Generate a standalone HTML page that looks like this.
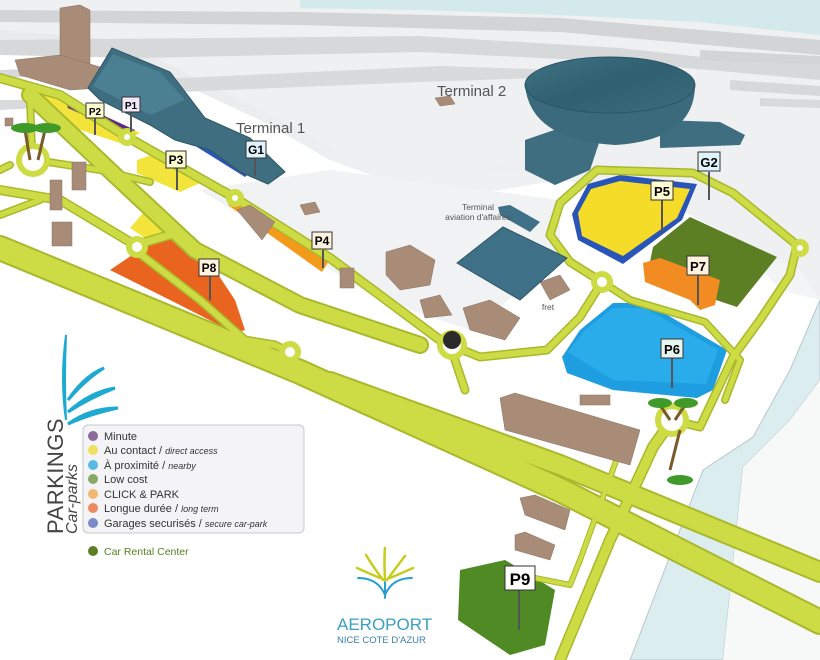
<!DOCTYPE html>
<html><head><meta charset="utf-8"><style>
html,body{margin:0;padding:0;background:#fff;}
svg{display:block}
text{font-family:"Liberation Sans",sans-serif}
</style></head><body>
<svg width="820" height="660" viewBox="0 0 820 660" xmlns="http://www.w3.org/2000/svg">
<defs>
<linearGradient id="apr" x1="0" y1="0" x2="0" y2="1"><stop offset="0" stop-color="#e6e8ea"/><stop offset="1" stop-color="#f4f5f6"/></linearGradient>
<linearGradient id="dome" x1="0" y1="0" x2="1" y2="1"><stop offset="0" stop-color="#3f7385"/><stop offset="0.5" stop-color="#2f5f70"/><stop offset="1" stop-color="#3c6e80"/></linearGradient>
</defs>
<rect width="820" height="660" fill="#fff"/>
<!-- apron -->
<path d="M0 0 H820 V300 L780 290 L700 200 L560 180 L440 200 L330 160 L260 120 L130 60 L0 40 Z" fill="url(#apr)"/>
<path d="M0 0 H820 V300 L800 270 L560 150 L400 190 L300 130 L200 80 L120 40 L0 30Z" fill="#eef0f1"/>
<path d="M200 190 L330 170 L560 200 L560 260 L470 330 L380 300 Z" fill="#f1f2f3"/>
<!-- sea top -->
<path d="M300 0 H820 V35 L700 22 L560 15 L420 10 L300 8Z" fill="#d3e9ec"/>
<!-- runways -->
<path d="M0 10 L300 12 L560 18 L820 40 V55 L560 32 L300 25 L0 22Z" fill="#d2d4d6"/>
<path d="M0 40 L420 36 L620 48 L820 70 V80 L620 62 L420 52 L140 58 L0 55Z" fill="#d6d8da"/>
<path d="M140 80 L440 66 L560 70 L540 78 L420 82 L180 92Z" fill="#d8dadc"/>
<path d="M700 50 L820 56 V66 L700 60Z" fill="#d2d4d6"/>
<path d="M760 62 L820 64 V72 L760 70Z" fill="#d6d8da"/>
<path d="M730 80 L820 86 V96 L730 90Z" fill="#d6d8da"/>
<path d="M760 98 L820 100 V108 L760 106Z" fill="#d8dadc"/>
<path d="M0 70 L60 68 L60 76 L0 78Z" fill="#d6d8da"/>
<path d="M0 100 L40 100 L40 108 L0 110Z" fill="#d8dadc"/>
<!-- sea right -->
<path d="M820 300 L790 370 L753 437 L703 470 L630 660 L723 660 L743 467 L790 420 L820 380Z" fill="#dcedf0" stroke="#b8c8cc" stroke-width="1"/>
<path d="M820 380 L790 420 L743 467 L723 660 L820 660Z" fill="#f7f8f8"/>

<!-- parking surfaces -->
<path d="M20 88 L67 97 L140 133 L120 143 L50 120Z" fill="#f2e43a"/>
<path d="M65 98 L135 130 L130 136 L68 108Z" fill="#5a2a8a"/>
<path d="M137 160 L160 152 L200 183 L180 192 L137 173Z" fill="#f2e43a"/>
<path d="M130 228 L150 205 L170 232 L148 240Z" fill="#f2e43a"/>
<path d="M228 205 L240 200 L332 256 L322 272Z" fill="#f39a1a"/>
<path d="M110 270 L150 243 L180 235 L205 255 L235 300 L245 330 L235 333 L170 300Z" fill="#e8641f"/>
<path d="M197 147 L203 144 L250 172 L245 177Z" fill="#2a55b8"/>
<!-- P5 -->
<path d="M572 214 L588 184 L620 175 L697 184 L682 220 L623 264 L578 240Z" fill="#2a55b8"/>
<path d="M578 213 L591 189 L620 181 L690 189 L677 218 L623 256 L582 236Z" fill="#f5dc28"/>
<!-- P7 -->
<path d="M653 247 L690 217 L777 257 L737 307 L647 277Z" fill="#5b7f22"/>
<path d="M643 263 L660 258 L720 280 L715 305 L700 310 L690 300 L645 282Z" fill="#f28c22"/>
<!-- P6 -->
<path d="M562 357 L580 330 L613 303 L647 303 L727 350 L713 390 L697 398 L613 390 L567 373Z" fill="#1e9ee0"/>
<path d="M568 352 L585 330 L613 308 L645 308 L718 350 L706 384 L613 380 Z" fill="#2aacea"/>
<!-- P9 -->
<path d="M460 570 L505 560 L555 590 L545 645 L510 655 L458 620Z" fill="#4f8a24"/>

<!-- roads -->
<g fill="none" stroke="#a9b82d" stroke-linecap="round" stroke-linejoin="round">
<path d="M0 248 L300 372 L560 490 L820 622" stroke-width="26"/>
<path d="M330 382 L560 465 L820 572" stroke-width="22"/>
<path d="M30 95 L120 180 L195 250 L300 305 L420 345" stroke-width="18"/>
<path d="M0 78 L60 95 L127 137 L235 198 L330 258 L440 340" stroke-width="10"/>
<path d="M0 190 L60 200 L135 245 L180 232" stroke-width="10"/>
<path d="M135 250 L200 300 L245 340 L275 345 L295 355" stroke-width="9"/>
<path d="M30 100 L32 150 M10 165 L0 170 M48 162 L100 170 L150 182 M0 215 L40 200" stroke-width="8"/>
<path d="M450 345 L480 357 L547 350 L580 317 L602 282 L570 262 L550 235 L560 203 L597 170 L693 173 L733 193 L797 245 L790 275 L760 320 L733 357 L700 427 L672 420" stroke-width="9"/>
<path d="M602 282 L630 300 L705 322 L740 360 L725 400" stroke-width="8"/>
<path d="M450 345 L465 390" stroke-width="9"/>
<path d="M672 420 L653 447 L610 540 L560 660" stroke-width="12"/>
<path d="M620 450 L580 560 L570 585 L520 575" stroke-width="6"/>
</g>
<g fill="none" stroke="#cddc44" stroke-linecap="round" stroke-linejoin="round">
<path d="M0 248 L300 372 L560 490 L820 622" stroke-width="22"/>
<path d="M330 382 L560 465 L820 572" stroke-width="18"/>
<path d="M30 95 L120 180 L195 250 L300 305 L420 345" stroke-width="14"/>
<path d="M0 78 L60 95 L127 137 L235 198 L330 258 L440 340" stroke-width="7"/>
<path d="M0 190 L60 200 L135 245 L180 232" stroke-width="7"/>
<path d="M135 250 L200 300 L245 340 L275 345 L295 355" stroke-width="6"/>
<path d="M30 100 L32 150 M10 165 L0 170 M48 162 L100 170 L150 182 M0 215 L40 200" stroke-width="5"/>
<path d="M450 345 L480 357 L547 350 L580 317 L602 282 L570 262 L550 235 L560 203 L597 170 L693 173 L733 193 L797 245 L790 275 L760 320 L733 357 L700 427 L672 420" stroke-width="6"/>
<path d="M602 282 L630 300 L705 322 L740 360 L725 400" stroke-width="5"/>
<path d="M450 345 L465 390" stroke-width="6"/>
<path d="M672 420 L653 447 L610 540 L560 660" stroke-width="9"/>
<path d="M620 450 L580 560 L570 585 L520 575" stroke-width="4"/>
</g>
<!-- roundabouts -->
<g fill="#fff" stroke="#cddc44" stroke-width="6">
<circle cx="33" cy="160" r="14"/><circle cx="127" cy="137" r="6"/><circle cx="137" cy="247" r="8"/>
<circle cx="235" cy="198" r="6"/><circle cx="452" cy="345" r="12"/><circle cx="602" cy="282" r="8"/>
<circle cx="800" cy="248" r="6"/><circle cx="672" cy="420" r="14"/><circle cx="290" cy="352" r="8"/>
</g>

<!-- buildings brown -->
<g fill="#a88c78" stroke="#8a7060" stroke-width="0.5">
<path d="M60 8 L80 5 L90 10 L90 70 L70 80 L60 60Z"/>
<path d="M15 60 L60 55 L110 70 L100 88 L70 90 L20 75Z"/>
<rect x="72" y="162" width="14" height="28"/><rect x="50" y="180" width="12" height="30"/>
<rect x="52" y="222" width="20" height="24"/><rect x="5" y="118" width="8" height="8"/>
<path d="M237 210 L250 205 L275 222 L262 240Z"/>
<path d="M386 252 L410 245 L435 260 L430 285 L400 290 L386 275Z"/>
<path d="M420 300 L440 295 L452 315 L425 318Z"/>
<path d="M463 308 L490 300 L520 318 L505 340 L470 330Z"/>
<path d="M540 282 L560 275 L570 290 L550 300Z"/>
<path d="M300 205 L315 202 L320 212 L305 215Z"/>
<rect x="340" y="268" width="14" height="20"/>
<path d="M435 98 L450 96 L455 104 L440 106Z"/>
<path d="M500 398 L515 393 L640 430 L630 465 L505 430Z"/>
<path d="M520 498 L535 495 L570 510 L565 530 L525 515Z"/>
<path d="M515 535 L525 532 L555 545 L550 560 L515 550Z"/>
<rect x="580" y="395" width="30" height="10"/>
</g>
<!-- terminal 1 -->
<path d="M88 88 L112 48 L170 72 L205 118 L250 138 L285 172 L268 184 L240 172 L210 150 L175 140 L150 125 L100 100Z" fill="#3f6e80" stroke="#2c5565"/>
<path d="M93 86 L113 54 L160 72 L185 100 L150 115 Z" fill="#4b7f92"/>
<!-- hangar & aviation -->
<path d="M457 263 L503 227 L567 258 L520 300Z" fill="#3e7088" stroke="#2c5565"/>
<path d="M498 207 L510 205 L540 222 L530 232 L500 215Z" fill="#3e7088"/>
<!-- terminal 2 -->
<path d="M525 140 L560 128 L600 140 L590 170 L555 185 L525 170Z" fill="#3f6e80"/>
<path d="M660 120 L720 122 L745 135 L740 145 L660 148Z" fill="#3f6e80"/>
<path d="M525 85 Q530 140 615 145 Q695 140 695 85Z" fill="#3a6a7b"/>
<ellipse cx="610" cy="85" rx="85" ry="28" fill="url(#dome)" stroke="#2c5565"/>
<!-- black statue -->
<circle cx="452" cy="340" r="9" fill="#2a2a2a"/>
<!-- palms -->
<g stroke="#7a5a2a" stroke-width="3"><path d="M30 160 L25 130 M38 160 L45 130 M670 420 L660 405 M675 420 L685 405 M670 470 L680 430"/></g>
<g fill="#3f9a2a"><ellipse cx="25" cy="128" rx="14" ry="5"/><ellipse cx="47" cy="128" rx="14" ry="5"/><ellipse cx="660" cy="403" rx="12" ry="5"/><ellipse cx="686" cy="403" rx="12" ry="5"/><ellipse cx="680" cy="480" rx="13" ry="5"/></g>

<!-- signs -->
<g font-size="12" font-weight="bold" text-anchor="middle">
<g stroke="#555" stroke-width="2">
<path d="M95 118 V135 M131 112 V132 M177 168 V190 M255 158 V176 M323 250 V268 M210 275 V300 M662 200 V233 M709 172 V200 M698 275 V305 M672 358 V388 M519 590 V630"/>
</g>
<g stroke="#333" stroke-width="1" fill="#fff">
<rect x="86" y="103" width="18" height="15" fill="#fffbd0"/><rect x="122" y="97" width="18" height="15" fill="#f0e8f8"/>
<rect x="166" y="151" width="20" height="17" fill="#fffbd0"/><rect x="246" y="141" width="20" height="17" fill="#e0f2fc"/>
<rect x="312" y="232" width="20" height="17" fill="#fff3e0"/><rect x="199" y="259" width="20" height="17" fill="#fff3e0"/>
<rect x="651" y="181" width="22" height="19" fill="#fffbd0"/><rect x="698" y="152" width="22" height="19" fill="#e0f2fc"/>
<rect x="687" y="256" width="22" height="19" fill="#fff3e0"/><rect x="661" y="339" width="22" height="19" fill="#e8f4ef"/>
<rect x="505" y="566" width="30" height="24" fill="#fff"/>
</g>
<text x="95" y="115" font-size="10">P2</text><text x="131" y="109" font-size="10">P1</text>
<text x="176" y="164">P3</text><text x="256" y="154">G1</text><text x="322" y="245">P4</text><text x="209" y="272">P8</text>
<text x="662" y="196" font-size="13">P5</text><text x="709" y="167" font-size="13">G2</text><text x="698" y="271" font-size="13">P7</text><text x="672" y="354" font-size="13">P6</text>
<text x="520" y="585" font-size="17">P9</text>
</g>

<!-- labels -->
<text x="437" y="96" font-size="15" fill="#555">Terminal 2</text>
<text x="236" y="133" font-size="15" fill="#555">Terminal 1</text>
<text x="478" y="210" font-size="8.5" fill="#555" text-anchor="middle">Terminal</text>
<text x="478" y="220" font-size="8.5" fill="#555" text-anchor="middle">aviation d'affaires</text>
<text x="548" y="310" font-size="8.5" fill="#555" text-anchor="middle">fret</text>

<!-- Parkings logo leaves -->
<g fill="#1ea9d0">
<path d="M66 335 Q60 380 66 420 Q64 380 66 335Z" stroke="#1ea9d0" stroke-width="2"/>
<path d="M68 400 Q85 375 104 368 Q85 380 68 400Z" stroke="#1ea9d0" stroke-width="3"/>
<path d="M68 412 Q90 392 115 388 Q90 398 68 412Z" stroke="#1ea9d0" stroke-width="3"/>
<path d="M68 424 Q90 408 118 408 Q90 414 68 424Z" stroke="#1ea9d0" stroke-width="3"/>
</g>
<text transform="translate(63,534) rotate(-90)" font-size="22" fill="#444" letter-spacing="0.5">PARKINGS</text>
<text transform="translate(77,534) rotate(-90)" font-size="16" font-style="italic" fill="#444">Car-parks</text>

<!-- legend -->
<rect x="83" y="425" width="221" height="108" rx="5" fill="#f4f4f6" stroke="#c8c8cc"/>
<g font-size="11" fill="#333">
<circle cx="93" cy="436" r="5" fill="#8a6a98"/><text x="104" y="440">Minute</text>
<circle cx="93" cy="450" r="5" fill="#f0e060"/><text x="104" y="454">Au contact / <tspan font-style="italic" font-size="9">direct access</tspan></text>
<circle cx="93" cy="465" r="5" fill="#5ab8e6"/><text x="104" y="469">À proximité / <tspan font-style="italic" font-size="9">nearby</tspan></text>
<circle cx="93" cy="479" r="5" fill="#88a868"/><text x="104" y="483">Low cost</text>
<circle cx="93" cy="494" r="5" fill="#f0b870"/><text x="104" y="498">CLICK &amp; PARK</text>
<circle cx="93" cy="508" r="5" fill="#ec8a60"/><text x="104" y="512">Longue durée / <tspan font-style="italic" font-size="9">long term</tspan></text>
<circle cx="93" cy="523" r="5" fill="#7a8ac8"/><text x="104" y="527">Garages securisés / <tspan font-style="italic" font-size="9">secure car-park</tspan></text>
</g>
<circle cx="93" cy="551" r="5" fill="#5b7f22"/>
<text x="104" y="555" font-size="10.5" fill="#5b7f22">Car Rental Center</text>

<!-- Aeroport logo -->
<g fill="none" stroke-linecap="round">
<path d="M385 580 Q384 560 385 548 M383 580 Q372 565 366 555 M387 580 Q398 565 405 556 M380 578 Q368 573 357 568 M390 578 Q402 573 413 568" stroke="#c8cc1e" stroke-width="2.5"/>
<path d="M358 578 Q378 578 385 595 Q392 578 412 578 M385 582 V598" stroke="#2a9ed0" stroke-width="2"/>
</g>
<text x="337" y="630" font-size="17" fill="#3a9fc0">AEROPORT</text>
<text x="337" y="643" font-size="9.5" fill="#3a7fa8">NICE COTE D'AZUR</text>
</svg>
</body></html>
